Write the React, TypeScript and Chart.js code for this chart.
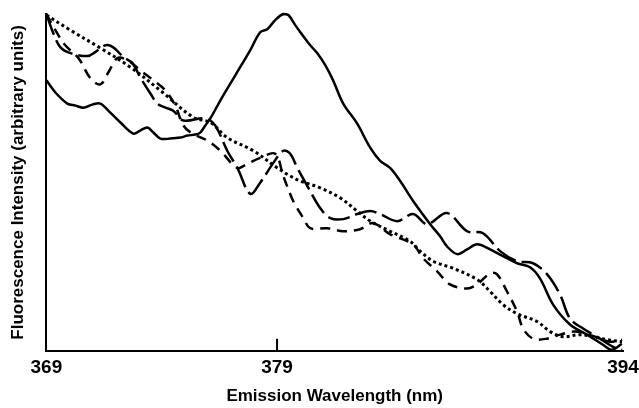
import React, { useEffect, useRef } from "react";
import { Chart, registerables } from "chart.js";
Chart.register(...registerables);

const xTicks = [369, 379, 394];

const solidWl = [369.0, 369.39, 369.91, 370.26, 370.6, 370.99, 371.34, 371.77, 372.21, 372.77, 373.07, 373.38, 373.64, 373.94, 374.37, 374.81, 375.11, 375.46, 375.67, 375.89, 376.11, 376.54, 377.19, 377.84, 378.27, 378.58, 378.92, 379.27, 379.49, 379.79, 380.01, 380.44, 380.74, 381.09, 381.43, 381.87, 382.47, 383.04, 383.47, 383.9, 384.34, 384.9, 385.64, 386.07, 386.37, 386.81, 387.24, 387.67, 388.24, 388.8, 389.41, 389.97, 390.4, 390.97, 391.7, 392.44, 393.13, 393.52, 393.95];
const solidI = [80.3, 76.7, 73.4, 72.8, 72.2, 73.1, 73.4, 70.7, 67.8, 64.5, 65.4, 66.3, 64.8, 63.0, 63.0, 63.3, 63.9, 64.2, 64.8, 66.9, 69.0, 74.3, 81.8, 89.3, 94.6, 95.5, 98.2, 100, 99.7, 96.7, 94.6, 90.7, 88.4, 84.8, 80.3, 73.4, 67.5, 60.3, 56.4, 54.3, 50.4, 44.5, 37.6, 34.0, 31.0, 28.7, 30.1, 31.6, 30.1, 28.1, 26.0, 24.8, 21.5, 13.7, 7.8, 4.8, 1.8, 0.3, 2.1];

const longDashWl = [369.0, 369.3, 369.61, 370.04, 370.78, 371.12, 371.56, 371.9, 372.34, 372.73, 373.07, 373.51, 373.81, 374.16, 374.5, 374.94, 375.89, 376.32, 376.84, 377.28, 377.84, 378.27, 378.84, 379.27, 379.57, 379.88, 380.31, 380.87, 381.31, 381.87, 382.47, 383.04, 383.47, 384.21, 384.9, 385.51, 386.37, 387.24, 387.93, 388.67, 389.41, 390.1, 390.71, 391.27, 391.7, 392.27, 393.0, 393.57, 393.96];
const longDashI = [100, 94.3, 90.1, 88.4, 87.5, 88.7, 90.7, 90.1, 87.2, 85.4, 81.2, 76.4, 73.4, 72.2, 71.3, 68.4, 69.0, 66.9, 59.4, 54.3, 46.6, 49.9, 55.8, 59.4, 58.5, 54.3, 49.0, 42.4, 39.4, 39.1, 40.6, 41.5, 40.6, 38.5, 40.6, 37.6, 40.9, 35.5, 34.9, 29.6, 26.6, 26.0, 22.7, 16.7, 9.6, 6.6, 3.6, 1.2, 0.3];

const shortDashWl = [369.0, 369.39, 369.82, 370.39, 370.91, 371.34, 371.69, 372.08, 372.51, 373.07, 373.64, 374.16, 374.59, 374.94, 375.33, 375.98, 376.54, 377.28, 377.71, 378.27, 378.92, 379.27, 379.7, 380.14, 380.44, 381.18, 381.87, 382.6, 383.17, 383.9, 384.9, 385.33, 385.94, 386.5, 387.24, 387.67, 388.24, 388.54, 388.97, 389.41, 389.67, 390.1, 390.71, 391.27, 391.92, 392.79, 393.44, 393.96];
const shortDashI = [100, 95.2, 90.7, 86.9, 80.9, 79.1, 82.7, 86.9, 86.3, 83.3, 80.3, 77.3, 72.8, 66.9, 64.5, 62.4, 59.4, 54.3, 55.5, 57.3, 58.5, 51.9, 44.5, 39.4, 36.4, 36.4, 35.5, 36.1, 37.9, 34.6, 31.6, 27.5, 23.6, 19.7, 18.5, 19.7, 23.0, 22.7, 17.6, 11.6, 6.6, 3.6, 3.6, 4.8, 5.7, 4.2, 2.7, 3.3];

const dottedWl = [369.0, 370.04, 371.34, 372.64, 373.94, 375.37, 376.11, 376.84, 377.97, 379.01, 379.57, 380.01, 380.87, 381.74, 382.47, 383.04, 383.9, 384.77, 385.2, 385.77, 386.63, 387.67, 388.24, 388.8, 389.41, 390.27, 390.84, 391.4, 392.14, 392.7, 393.31, 393.96];
const dottedI = [99.7, 95.2, 89.9, 84.2, 77.3, 69.3, 67.8, 63.3, 59.4, 54.3, 51.9, 50.4, 48.4, 45.4, 41.5, 38.5, 35.5, 32.5, 29.6, 26.6, 24.5, 21.2, 17.6, 13.7, 11.0, 8.7, 5.7, 4.2, 4.8, 4.2, 3.3, 2.7];

const pts = (xs: number[], ys: number[]) => xs.map((x, i) => ({ x, y: ys[i] }));

const innerTick = {
  id: "innerTick",
  afterDatasetsDraw(chart: any) {
    const { ctx, chartArea, scales } = chart;
    const xs = scales.x;
    ctx.save();
    ctx.strokeStyle = "#000";
    ctx.lineWidth = 2;
    xTicks.slice(1, -1).forEach((v) => {
      const px = xs.getPixelForValue(v);
      ctx.beginPath();
      ctx.moveTo(px, chartArea.bottom);
      ctx.lineTo(px, chartArea.bottom - 12);
      ctx.stroke();
    });
    ctx.restore();
  },
};

const FONT = "'Liberation Sans', Arial, sans-serif";

export default function App() {
  const ref = useRef<HTMLCanvasElement>(null);
  useEffect(() => {
    if (!ref.current) return;
    const common = {
      borderColor: "#000",
      borderWidth: 2.5,
      pointRadius: 0,
      tension: 0.35,
      fill: false,
      clip: 6,
    };
    const chart = new Chart(ref.current, {
      type: "line",
      data: {
        datasets: [
          { ...common, label: "solid", data: pts(solidWl, solidI) },
          { ...common, label: "long dash", data: pts(longDashWl, longDashI), borderDash: [22, 6] },
          { ...common, label: "short dash", data: pts(shortDashWl, shortDashI), borderDash: [10, 7] },
          { ...common, label: "dotted", data: pts(dottedWl, dottedI), borderDash: [3, 3], borderWidth: 3 },
        ],
      },
      options: {
        responsive: false,
        animation: false,
        layout: { padding: { top: 14, left: 0, right: 0, bottom: 0 } },
        plugins: { legend: { display: false }, tooltip: { enabled: false } },
        scales: {
          x: {
            type: "linear",
            min: 369,
            max: 394,
            afterBuildTicks: (axis: any) => {
              axis.ticks = xTicks.map((v) => ({ value: v }));
            },
            afterFit: (axis: any) => {
              axis.paddingRight = 16;
              axis.paddingLeft = 0;
            },
            grid: { display: false, drawTicks: false },
            border: { display: true, color: "#000", width: 2 },
            ticks: {
              color: "#000",
              font: { family: FONT, size: 19, weight: "bold" },
              padding: 6,
              maxRotation: 0,
              autoSkip: false,
            },
            title: {
              display: true,
              text: "Emission Wavelength (nm)",
              color: "#000",
              font: { family: FONT, size: 17, weight: "bold" },
              padding: { top: 1, bottom: 1 },
            },
          },
          y: {
            min: 0,
            max: 100,
            grid: { display: false, drawTicks: false },
            border: { display: true, color: "#000", width: 2 },
            ticks: { display: false },
            title: {
              display: true,
              text: "Fluorescence Intensity (arbitrary units)",
              color: "#000",
              font: { family: FONT, size: 17, weight: "bold" },
              padding: { top: 8, bottom: 18 },
            },
          },
        },
      },
      plugins: [innerTick],
    } as any);
    return () => chart.destroy();
  }, []);
  return (
    <div style={{ position: "absolute", left: 0, top: 0, width: 639, height: 408, background: "#fff" }}>
      <canvas ref={ref} width={639} height={408} />
    </div>
  );
}
